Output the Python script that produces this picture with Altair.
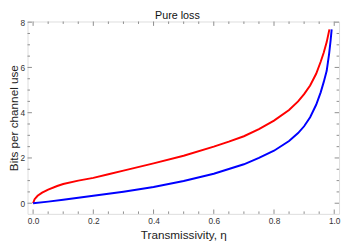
import altair as alt
import pandas as pd

# Curve values
eta_red = [0, 0.005, 0.015, 0.03, 0.05, 0.08, 0.1, 0.15, 0.2, 0.25, 0.3, 0.4, 0.5, 0.6,
           0.65, 0.7, 0.75, 0.8, 0.85, 0.88, 0.9, 0.92, 0.94, 0.955, 0.965, 0.975, 0.984]
bits_red = [0, 0.18, 0.33, 0.47, 0.6, 0.76, 0.85, 1.0, 1.12, 1.28, 1.44, 1.76, 2.1, 2.5,
            2.72, 2.96, 3.27, 3.65, 4.12, 4.5, 4.82, 5.2, 5.72, 6.25, 6.65, 7.12, 7.68]

eta_blue = [0, 0.05, 0.1, 0.2, 0.3, 0.4, 0.5, 0.6, 0.7, 0.75, 0.8, 0.85, 0.88, 0.9,
            0.92, 0.94, 0.955, 0.965, 0.975, 0.983, 0.988, 0.9915]
bits_blue = [0, 0.07, 0.15, 0.33, 0.51, 0.72, 0.98, 1.3, 1.72, 2.0, 2.32, 2.75, 3.1, 3.4,
             3.8, 4.35, 4.9, 5.35, 5.85, 6.6, 7.2, 7.68]

series_names = ["upper", "lower"]
series_colors = ["#ff0000", "#0000ff"]

title_text = ["Pure loss"]

x_major = [0.0, 0.2, 0.4, 0.6, 0.8, 1.0]
x_minor = [0.05, 0.1, 0.15, 0.25, 0.3, 0.35, 0.45, 0.5, 0.55, 0.65, 0.7, 0.75, 0.85, 0.9, 0.95]
y_major = [0, 2, 4, 6, 8]
y_minor = [0.5, 1, 1.5, 2.5, 3, 3.5, 4.5, 5, 5.5, 6.5, 7, 7.5]

W, H = 319, 197
FONT = "Liberation Sans"
TICK = "#8c8c8c"

df = pd.concat([
    pd.DataFrame({"eta": eta_red, "bits": bits_red, "series": series_names[0]}),
    pd.DataFrame({"eta": eta_blue, "bits": bits_blue, "series": series_names[1]}),
])

xs = alt.Scale(domain=[-0.0185, 1.016], nice=False, zero=False)
ys = alt.Scale(domain=[-0.47, 8.03], nice=False, zero=False)

lines = alt.Chart(df).mark_line(strokeWidth=2, clip=True).encode(
    x=alt.X("eta:Q", scale=xs, axis=alt.Axis(
        values=x_major, format=".1f", ticks=False, domain=False, grid=False,
        labelFontSize=8.5, labelPadding=3, labelFont=FONT, labelColor="#333",
        title="Transmissivity, η", titleFont=FONT, titleFontSize=12,
        titleFontWeight="normal", titleColor="#222", titleY=25,
        titleBaseline="alphabetic")),
    y=alt.Y("bits:Q", scale=ys, axis=alt.Axis(
        values=y_major, format="d", ticks=False, domain=False, grid=False,
        labelFontSize=8.5, labelPadding=3, labelFont=FONT, labelColor="#333",
        title="Bits per channel use", titleFont=FONT, titleFontSize=12,
        titleFontWeight="normal", titleColor="#222", titleX=-14, titleY=H / 2,
        titleAngle=-90, titleAlign="center", titleBaseline="middle")),
    color=alt.Color("series:N", scale=alt.Scale(domain=series_names, range=series_colors),
                    legend=None),
    detail="series:N",
)


def xticks(vals, length, top):
    d = pd.DataFrame({"eta": vals})
    y0 = 0 if top else H
    y1 = length if top else H - length
    return alt.Chart(d).mark_rule(color=TICK, strokeWidth=1).encode(
        x=alt.X("eta:Q", scale=xs), y=alt.value(y0), y2=alt.value(y1))


def yticks(vals, length, right):
    d = pd.DataFrame({"bits": vals})
    x0 = W if right else 0
    x1 = W - length if right else length
    return alt.Chart(d).mark_rule(color=TICK, strokeWidth=1).encode(
        y=alt.Y("bits:Q", scale=ys), x=alt.value(x0), x2=alt.value(x1))


ticks = [
    xticks(x_major, 4.5, False), xticks(x_minor, 2.5, False),
    xticks(x_major, 4.5, True), xticks(x_minor, 2.5, True),
    yticks(y_major, 4.5, False), yticks(y_minor, 2.5, False),
    yticks(y_major, 4.5, True), yticks(y_minor, 2.5, True),
]

title = alt.Chart(pd.DataFrame({"t": title_text})).mark_text(
    font=FONT, fontSize=11, color="#111", align="center", baseline="alphabetic"
).encode(text="t:N", x=alt.value(W / 2 - 6), y=alt.value(-2.5))

chart = alt.layer(*ticks, lines, title).properties(
    width=W, height=H,
    autosize=alt.AutoSizeParams(type="none"),
    padding={"left": 20, "top": 11, "right": 2, "bottom": 26},
).configure_view(stroke="#9a9a9a", strokeWidth=1).configure(background="white")

chart.save("out.html", embed_options={"renderer": "svg", "actions": False})
